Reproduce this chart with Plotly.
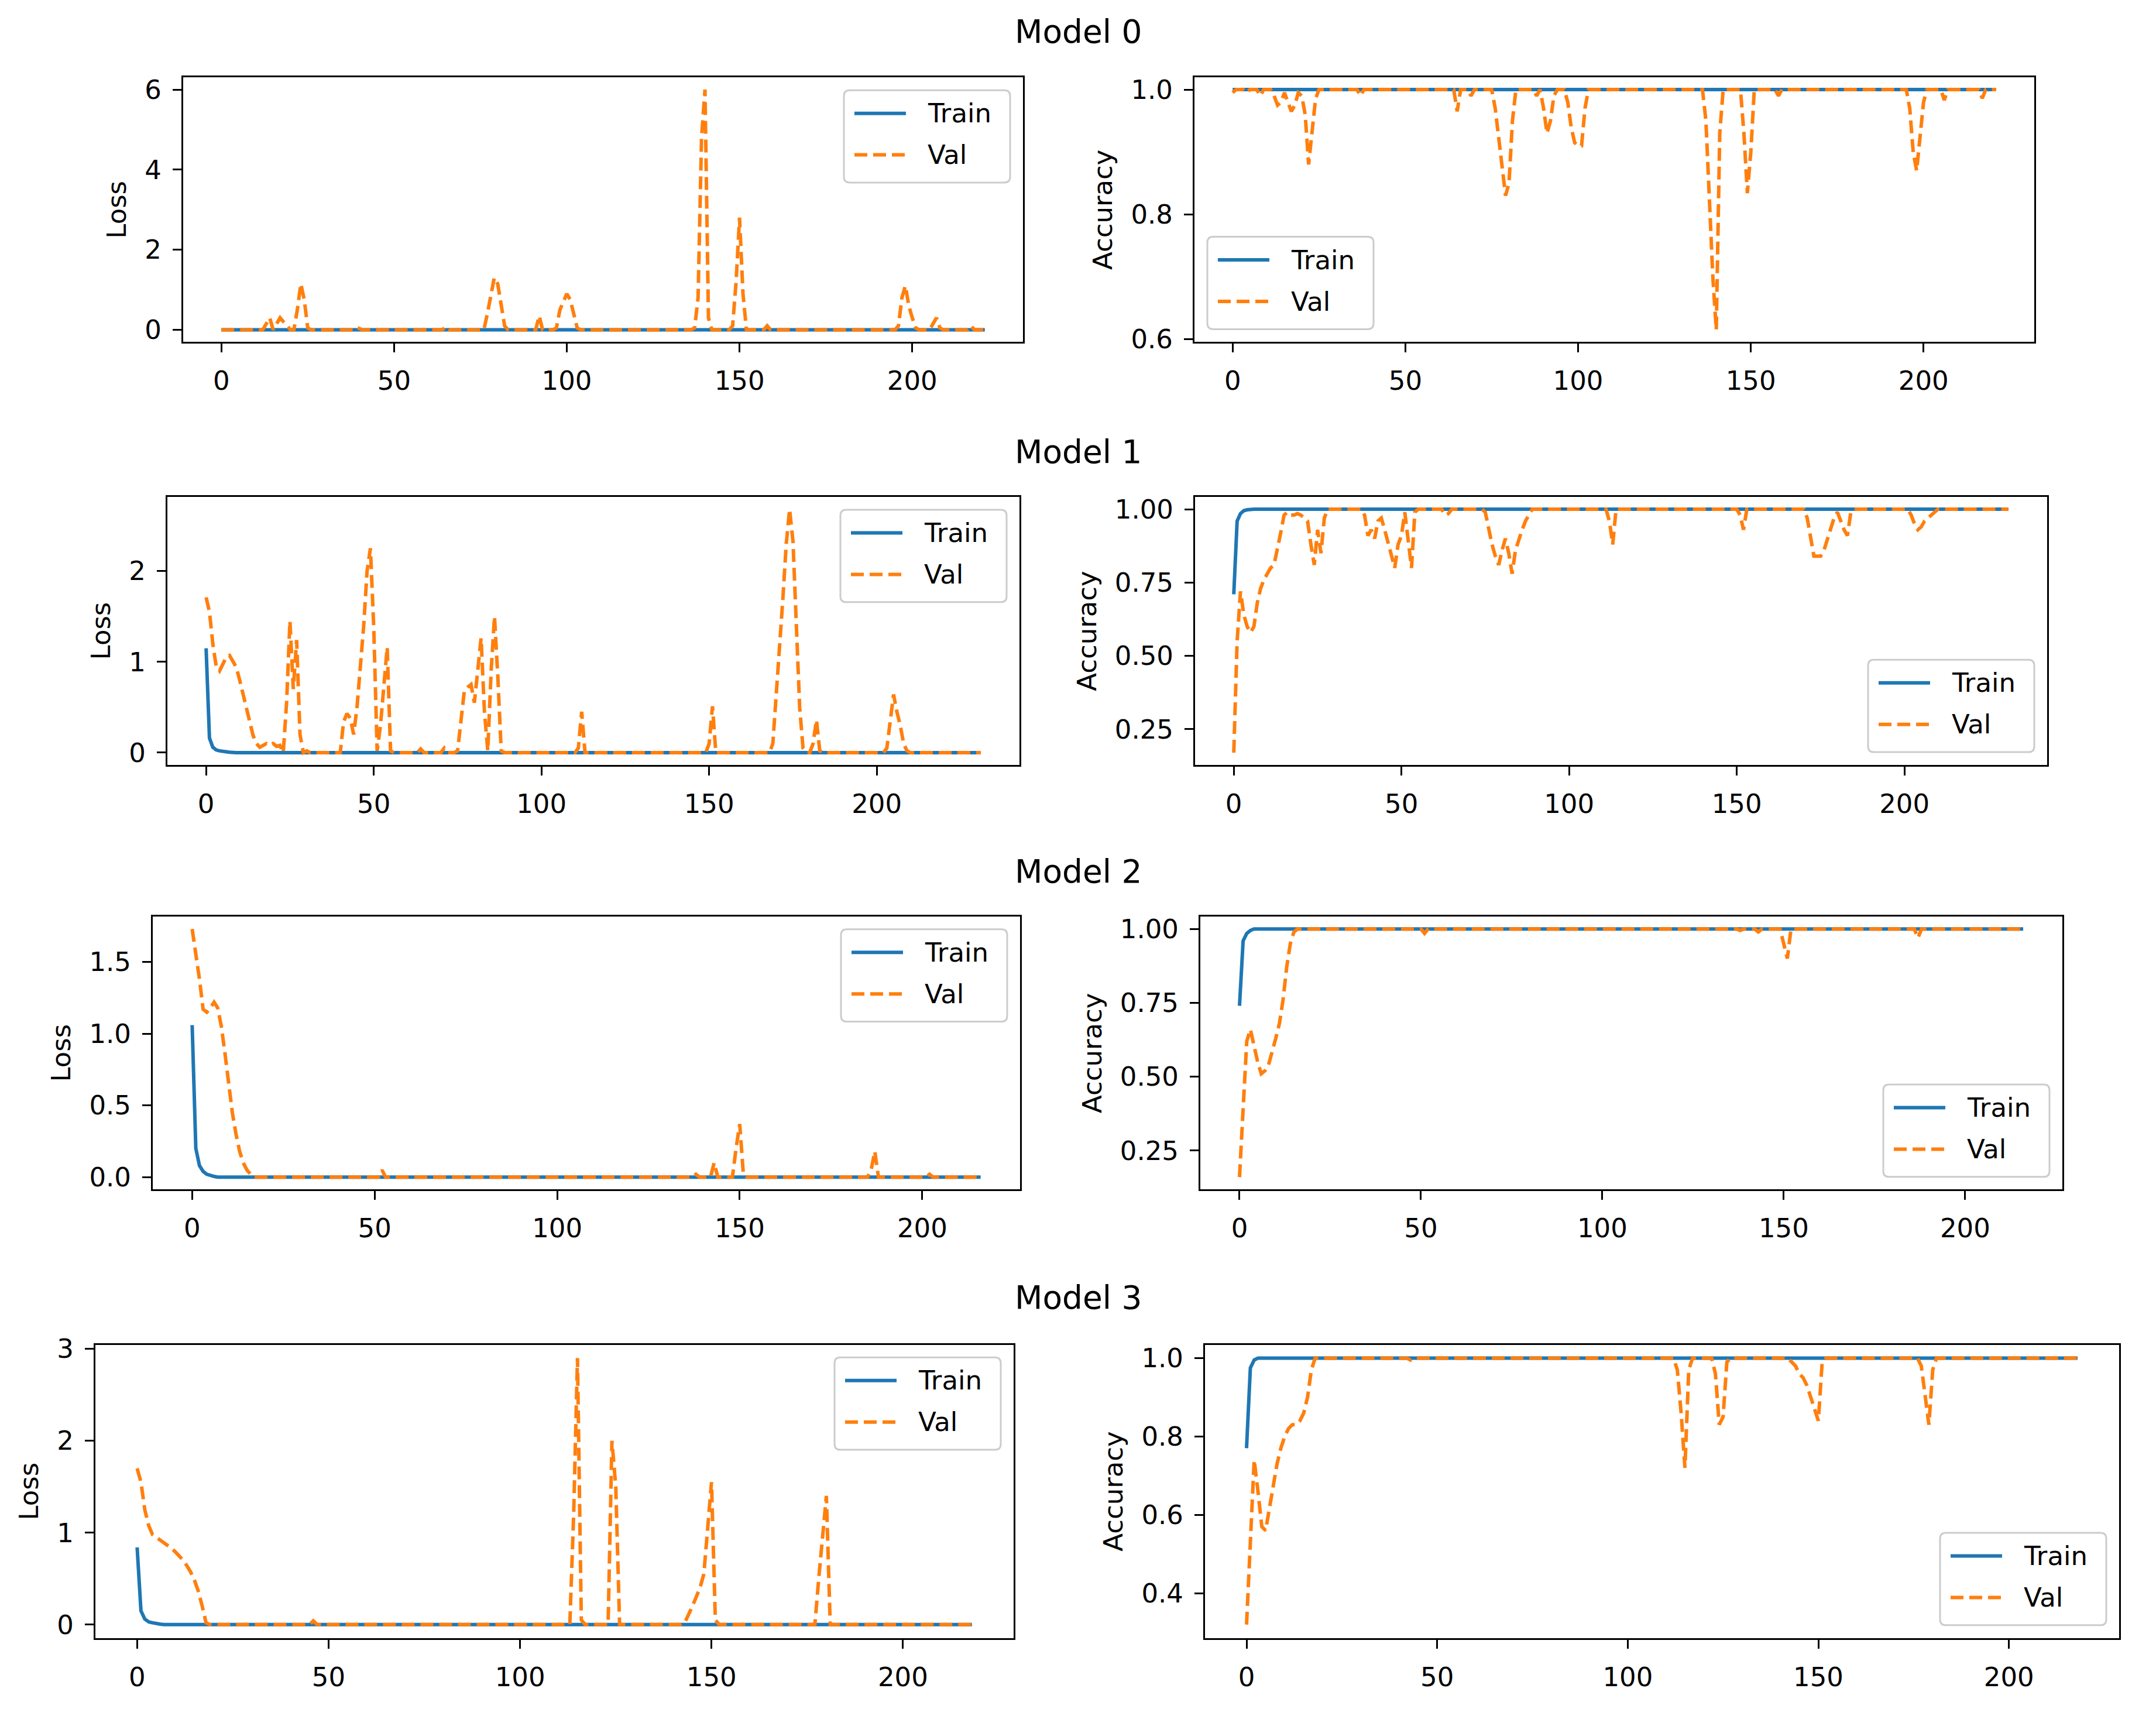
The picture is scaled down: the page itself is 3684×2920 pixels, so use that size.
import plotly.graph_objects as go

W, H = 3684, 2920
BLUE = "#1f77b4"
ORANGE = "#ff7f0e"
FONT = "DejaVu Sans"

titles = ["Model 0", "Model 1", "Model 2", "Model 3"]
x_ticks = [0, 50, 100, 150, 200]
loss_ticks = [[0, 2, 4, 6], [0, 1, 2], [0, 0.5, 1.0, 1.5], [0, 1, 2, 3]]
loss_fmt = ["d", "d", ".1f", "d"]
acc_ticks = [[0.6, 0.8, 1.0], [0.25, 0.5, 0.75, 1.0], [0.25, 0.5, 0.75, 1.0], [0.4, 0.6, 0.8, 1.0]]
acc_fmt = [".1f", ".2f", ".2f", ".1f"]

# ---- Model 0 (222 epochs) ----
train_loss_0 = [0.0] * 222
val_loss_0 = ([0, 0, 0, 0, 0, 0, 0, 0, 0, 0,
               0, 0, 0, 0.15, 0.3, 0, 0.15, 0.3, 0.2, 0.1,
               0, 0, 0.5, 1.15, 0.75, 0.05, 0, 0, 0, 0,
               0, 0, 0, 0, 0, 0, 0, 0, 0, 0.06,
               0.03, 0, 0, 0, 0, 0, 0, 0, 0, 0]
              + [0] * 10
              + [0, 0, 0, 0, 0, 0.08, 0, 0, 0, 0,
                 0, 0, 0, 0, 0, 0, 0, 0.4, 0.9, 1.3,
                 1.15, 0.6, 0.1, 0, 0, 0, 0, 0, 0, 0,
                 0, 0, 0.35, 0, 0, 0, 0, 0.05, 0.5, 0.7,
                 0.9, 0.75, 0.4, 0.05, 0, 0, 0, 0, 0, 0]
              + [0] * 20
              + [0, 0, 0, 0, 0, 0, 0, 0.05, 0.8, 4.8,
                 6.0, 0.3, 0, 0, 0, 0, 0, 0, 0.1, 1.2,
                 2.8, 0.9, 0, 0, 0, 0, 0, 0, 0.1, 0]
              + [0] * 30
              + [0, 0, 0, 0, 0, 0, 0.1, 0.8, 1.1, 0.6,
                 0.3, 0.05, 0, 0, 0, 0, 0.15, 0.3, 0.05, 0,
                 0, 0, 0, 0, 0, 0, 0, 0.1, 0, 0,
                 0, 0])
train_acc_0 = [1.0] * 222
val_acc_0 = ([0.995, 1, 1, 1, 0.995, 1, 1, 1, 0.99, 1,
              1, 1, 0.99, 0.975, 0.98, 0.995, 0.98, 0.965, 0.975, 0.995,
              0.99, 0.96, 0.88, 0.94, 0.985, 1, 1, 1, 1, 1,
              1, 1, 1, 1, 1, 1, 1, 0.99, 1, 1]
             + [1] * 20
             + [1, 1, 1, 1, 1, 0.965, 1, 1, 1, 0.99,
                1, 1, 1, 1, 1, 1, 0.97, 0.92, 0.87, 0.83,
                0.85, 0.95, 1, 1, 1, 1, 1, 1, 0.99, 1,
                0.97, 0.93, 0.95, 0.99, 1, 1, 1, 0.98, 0.94, 0.915,
                0.91, 0.91, 0.97, 1, 1, 1, 1, 1, 1, 1]
             + [1] * 20
             + [1, 1, 1, 1, 1, 1, 1, 0.95, 0.83, 0.7,
                0.615, 0.93, 1, 1, 1, 1, 1, 1, 0.93, 0.834,
                0.9, 1, 1, 1, 1, 1, 1, 1, 0.99, 1]
             + [1] * 30
             + [1, 1, 1, 1, 1, 1, 0.97, 0.9, 0.87, 0.93,
                0.98, 1, 1, 1, 1, 1, 0.983, 1, 1, 1,
                1, 1, 1, 1, 1, 1, 1, 0.986, 1, 1,
                1, 1])

# ---- Model 1 (232 epochs) ----
train_loss_1 = [1.15, 0.16, 0.06, 0.03, 0.02, 0.01, 0.01, 0.005] + [0.0] * 224
val_loss_1 = ([1.71, 1.55, 1.2, 0.95, 0.9, 0.98, 1.05, 1.07, 1.0, 0.94,
               0.8, 0.65, 0.5, 0.32, 0.19, 0.1, 0.06, 0.08, 0.1, 0.08,
               0.1, 0.07, 0.08, 0, 0.55, 1.45, 0.7, 1.24, 0.2, 0,
               0.02, 0, 0, 0, 0, 0, 0, 0, 0, 0,
               0, 0.34, 0.43, 0.38, 0.2, 0.5, 0.94, 1.4, 2.0, 2.25,
               1.37, 0.02, 0.3, 0.7, 1.16, 0.02, 0, 0, 0, 0,
               0, 0, 0, 0, 0.04, 0, 0, 0, 0, 0,
               0, 0.05, 0, 0, 0, 0.02, 0.35, 0.68, 0.72, 0.75,
               0.55, 0.9, 1.26, 0.45, 0.02, 0.9, 1.5, 0.83, 0.02, 0]
              + [0] * 20
              + [0, 0.05, 0.45, 0, 0, 0, 0, 0, 0, 0]
              + [0] * 30
              + [0.1, 0.51, 0, 0, 0, 0, 0, 0, 0, 0,
                 0, 0, 0, 0, 0, 0, 0, 0, 0, 0.1,
                 0.6, 1.2, 1.7, 2.3, 2.68, 2.33, 1.4, 0.5, 0.05, 0,
                 0, 0.1, 0.36, 0.02, 0, 0, 0, 0, 0, 0]
              + [0] * 10
              + [0, 0, 0, 0.05, 0.35, 0.64, 0.45, 0.3, 0.1, 0.02]
              + [0] * 22)
train_acc_1 = [0.71, 0.96, 0.985, 0.995, 0.998] + [1.0] * 227
val_acc_1 = ([0.17, 0.55, 0.72, 0.64, 0.6, 0.58, 0.6, 0.68, 0.73, 0.76,
              0.78, 0.8, 0.81, 0.86, 0.92, 0.98, 0.99, 0.98, 0.98, 0.985,
              0.98, 0.97, 0.96, 0.88, 0.81, 0.93, 0.85, 0.97, 1, 1,
              1, 1, 1, 1, 1, 1, 1, 1, 1, 0.98,
              0.91, 0.93, 0.9, 0.96, 0.97, 0.93, 0.89, 0.85, 0.8, 0.88,
              0.91, 0.99, 0.9, 0.8, 0.99, 1, 1, 1, 1, 1,
              1, 1, 1, 0.98, 0.985, 1, 1, 1, 1, 1,
              1, 1, 1, 1, 1, 0.99, 0.93, 0.88, 0.84, 0.81,
              0.86, 0.9, 0.85, 0.78, 0.86, 0.9, 0.93, 0.96, 0.98, 1]
             + [1] * 20
             + [1, 1, 0.96, 0.88, 1, 1, 1, 1, 1, 1]
             + [1] * 30
             + [1, 0.98, 0.93, 1, 1, 1, 1, 1, 1, 1]
             + [1] * 10
             + [1, 0.97, 0.9, 0.84, 0.84, 0.84, 0.86, 0.9, 0.94, 0.97,
                0.99, 0.96, 0.93, 0.91, 0.99, 1, 1, 1, 1, 1]
             + [1] * 10
             + [1, 1, 0.98, 0.95, 0.93, 0.94, 0.96, 0.97, 0.98, 0.99]
             + [1] * 22)

# ---- Model 2 (217 epochs) ----
train_loss_2 = [1.06, 0.2, 0.08, 0.04, 0.02, 0.01, 0.005] + [0.0] * 210
val_loss_2 = ([1.73, 1.56, 1.38, 1.17, 1.15, 1.18, 1.22, 1.18, 1.05, 0.86,
               0.65, 0.45, 0.3, 0.18, 0.1, 0.05, 0.02, 0, 0, 0]
              + [0] * 30
              + [0, 0, 0.05, 0, 0, 0, 0, 0, 0, 0]
              + [0] * 70
              + [0, 0, 0, 0, 0, 0, 0, 0, 0.02, 0,
                 0, 0, 0, 0.1, 0, 0, 0, 0, 0, 0.2,
                 0.37, 0.02, 0, 0, 0, 0, 0, 0, 0, 0]
              + [0] * 20
              + [0, 0, 0, 0, 0, 0, 0.05, 0.18, 0, 0]
              + [0] * 10
              + [0, 0, 0.02, 0, 0, 0, 0, 0, 0, 0]
              + [0] * 7)
train_acc_2 = [0.74, 0.96, 0.985, 0.995] + [1.0] * 213
val_acc_2 = ([0.16, 0.4, 0.62, 0.66, 0.6, 0.55, 0.51, 0.52, 0.54, 0.58,
              0.63, 0.68, 0.76, 0.87, 0.95, 0.99, 1, 1, 1, 1]
             + [1] * 30
             + [1, 0.985, 1, 1, 1, 1, 1, 1, 1, 1]
             + [1] * 70
             + [1, 1, 1, 1, 1, 1, 1, 1, 0.995, 1,
                1, 1, 1, 0.99, 1, 1, 1, 1, 1, 1,
                0.95, 0.9, 1, 1, 1, 1, 1, 1, 1, 1]
             + [1] * 20
             + [1, 1, 1, 1, 1, 1, 1, 0.97, 1, 1]
             + [1] * 27)

# ---- Model 3 (219 epochs) ----
train_loss_3 = [0.84, 0.15, 0.06, 0.03, 0.02, 0.01, 0.005] + [0.0] * 212
val_loss_3 = ([1.7, 1.55, 1.25, 1.08, 0.98, 0.95, 0.93, 0.9, 0.87, 0.83,
               0.79, 0.75, 0.7, 0.64, 0.57, 0.48, 0.36, 0.2, 0.02, 0]
              + [0] * 20
              + [0, 0, 0, 0, 0, 0, 0.04, 0, 0, 0]
              + [0] * 60
              + [0, 0, 0, 0, 1.2, 2.9, 0.05, 0, 0, 0,
                 0, 0, 0, 0, 2.0, 1.5, 0, 0, 0, 0]
              + [0] * 10
              + [0, 0, 0, 0.02, 0.1, 0.2, 0.3, 0.4, 0.55, 1.0,
                 1.55, 0.05, 0, 0, 0, 0, 0, 0, 0, 0]
              + [0] * 10
              + [0, 0, 0, 0, 0, 0, 0, 0, 0.5, 1.0,
                 1.4, 0, 0, 0, 0, 0, 0, 0, 0, 0]
              + [0] * 29)
train_acc_3 = [0.77, 0.975, 0.995] + [1.0] * 216
val_acc_3 = ([0.32, 0.52, 0.74, 0.66, 0.57, 0.56, 0.62, 0.67, 0.73, 0.77,
              0.8, 0.82, 0.83, 0.83, 0.84, 0.86, 0.9, 0.97, 1, 1]
             + [1] * 20
             + [1, 1, 1, 0.995, 1, 1, 1, 1, 1, 1]
             + [1] * 60
             + [1, 1, 1, 0.97, 0.86, 0.72, 0.97, 1, 1, 1,
                1, 1, 1, 0.96, 0.83, 0.85, 0.99, 1, 1, 1]
             + [1] * 10
             + [1, 1, 1, 0.99, 0.98, 0.96, 0.95, 0.93, 0.9, 0.87,
                0.84, 0.99, 1, 1, 1, 1, 1, 1, 1, 1]
             + [1] * 10
             + [1, 1, 1, 1, 1, 1, 1, 0.98, 0.9, 0.83,
                0.97, 1, 1, 1, 1, 1, 1, 1, 1, 1]
             + [1] * 29)

train_loss = [train_loss_0, train_loss_1, train_loss_2, train_loss_3]
val_loss = [val_loss_0, val_loss_1, val_loss_2, val_loss_3]
train_acc = [train_acc_0, train_acc_1, train_acc_2, train_acc_3]
val_acc = [val_acc_0, val_acc_1, val_acc_2, val_acc_3]

# axes boxes in pixels: (left, top, right, bottom)
loss_boxes = [(305, 107, 1740, 565), (278, 834, 1734, 1298),
              (253, 1561, 1735, 2034), (155, 2303, 1724, 2811)]
acc_boxes = [(2033, 107, 3468, 565), (2034, 834, 3490, 1298),
             (2043, 1561, 3516, 2034), (2051, 2303, 3613, 2811)]
acc_legend_corner = ["lower left", "lower right", "lower right", "lower right"]
title_x = 1835
title_y = [27, 756, 1483, 2221]

TICK_SIZE = 45
LW = 6
DASH = "22px,10px"


def p(x, y):
    return x / W, 1 - y / H


def pad_range(values):
    lo, hi = min(values), max(values)
    m = 0.05 * (hi - lo)
    return [lo - m, hi + m]


def add_legend(fig, box, corner):
    l, t, r, b = box
    w, h, pad, rad = 284, 160, 22, 10
    x0 = l + pad if corner.endswith("left") else r - pad - w
    y0 = t + pad if corner.startswith("upper") else b - pad - h
    x1, y1 = x0 + w, y0 + h

    def s(x, y):
        px, py = p(x, y)
        return f"{px:.6f},{py:.6f}"

    path = (f"M{s(x0 + rad, y0)} L{s(x1 - rad, y0)} Q{s(x1, y0)} {s(x1, y0 + rad)} "
            f"L{s(x1, y1 - rad)} Q{s(x1, y1)} {s(x1 - rad, y1)} "
            f"L{s(x0 + rad, y1)} Q{s(x0, y1)} {s(x0, y1 - rad)} "
            f"L{s(x0, y0 + rad)} Q{s(x0, y0)} {s(x0 + rad, y0)} Z")
    fig.add_shape(type="path", path=path, xref="paper", yref="paper",
                  fillcolor="rgba(255,255,255,0.8)",
                  line=dict(color="#cccccc", width=3), layer="above")
    for i, (name, color, dash) in enumerate([("Train", BLUE, "solid"), ("Val", ORANGE, DASH)]):
        cy = y0 + 40 + i * 72
        ax, ay = p(x0 + 18, cy)
        bx, _ = p(x0 + 106, cy)
        fig.add_shape(type="line", xref="paper", yref="paper", x0=ax, y0=ay, x1=bx, y1=ay,
                      line=dict(color=color, width=LW, dash=dash), layer="above")
        tx, _ = p(x0 + 141, cy)
        fig.add_annotation(x=tx, y=ay, xref="paper", yref="paper", text=name,
                           showarrow=False, xanchor="left", yanchor="middle",
                           font=dict(family=FONT, size=TICK_SIZE, color="black"))


def add_panel(fig, k, box, train, val, ytitle, yticks, yfmt, corner):
    xr = "x" if k == 1 else f"x{k}"
    yr = "y" if k == 1 else f"y{k}"
    fig.add_trace(go.Scatter(x=list(range(len(train))), y=train, mode="lines", name="Train",
                             line=dict(color=BLUE, width=LW), xaxis=xr, yaxis=yr,
                             showlegend=False))
    fig.add_trace(go.Scatter(x=list(range(len(val))), y=val, mode="lines", name="Val",
                             line=dict(color=ORANGE, width=LW, dash=DASH), xaxis=xr, yaxis=yr,
                             showlegend=False))
    l, t, r, b = box
    n = max(len(train), len(val)) - 1
    common = dict(showline=True, linecolor="black", linewidth=3, mirror=True,
                  ticks="outside", ticklen=15, tickwidth=3, tickcolor="black",
                  showgrid=False, zeroline=False, ticklabelstandoff=10,
                  tickfont=dict(family=FONT, size=TICK_SIZE, color="black"))
    fig.update_layout({
        ("xaxis" if k == 1 else f"xaxis{k}"): dict(
            domain=[l / W, r / W], anchor=yr, range=[-0.05 * n, 1.05 * n],
            tickvals=x_ticks, **common),
        ("yaxis" if k == 1 else f"yaxis{k}"): dict(
            domain=[1 - b / H, 1 - t / H], anchor=xr, range=pad_range(train + val),
            tickvals=yticks, tickformat=yfmt,
            title=dict(text=ytitle, standoff=18,
                       font=dict(family=FONT, size=TICK_SIZE, color="black")),
            **common),
    })
    add_legend(fig, box, corner)


fig = go.Figure()
for m in range(4):
    add_panel(fig, 2 * m + 1, loss_boxes[m], train_loss[m], val_loss[m], "Loss",
              loss_ticks[m], loss_fmt[m], "upper right")
    add_panel(fig, 2 * m + 2, acc_boxes[m], train_acc[m], val_acc[m], "Accuracy",
              acc_ticks[m], acc_fmt[m], acc_legend_corner[m])
    tx, ty = p(title_x, title_y[m])
    fig.add_annotation(x=tx, y=ty, xref="paper", yref="paper", text=titles[m],
                       showarrow=False, xanchor="center", yanchor="middle",
                       font=dict(family=FONT, size=55, color="black"))

fig.update_layout(width=W, height=H, margin=dict(l=0, r=0, t=0, b=0),
                  paper_bgcolor="white", plot_bgcolor="white", showlegend=False)

fig.write_html("out.html")
